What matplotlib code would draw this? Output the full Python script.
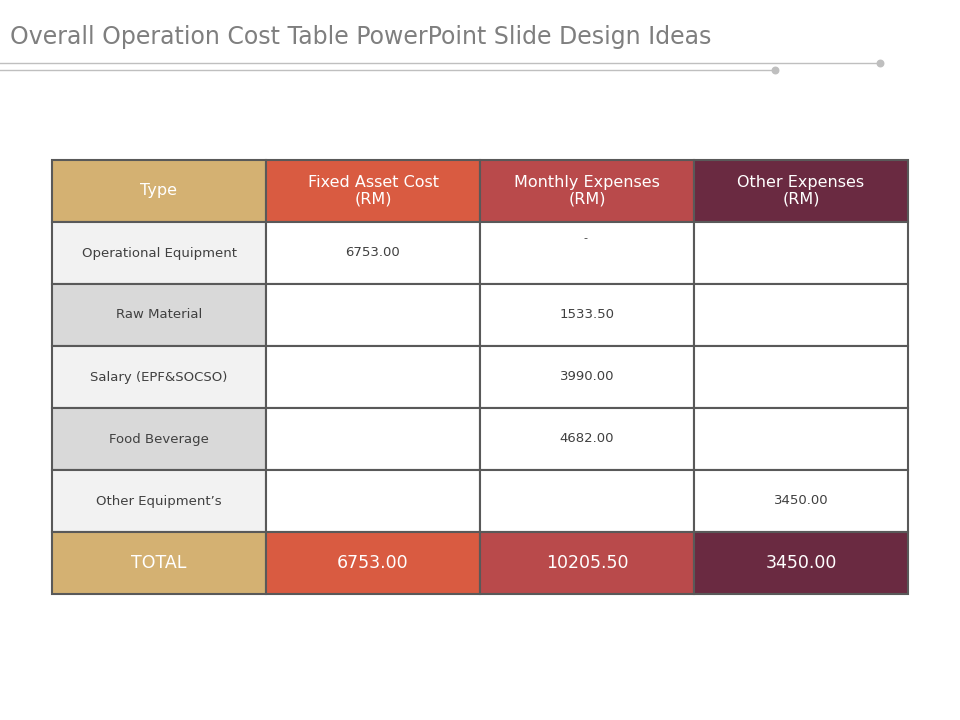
import matplotlib.pyplot as plt
from matplotlib.patches import Rectangle

title = "Overall Operation Cost Table PowerPoint Slide Design Ideas"
headers = ["Type", "Fixed Asset Cost\n(RM)", "Monthly Expenses\n(RM)", "Other Expenses\n(RM)"]
row_labels = ["Operational Equipment", "Raw Material", "Salary (EPF&SOCSO)",
              "Food Beverage", "Other Equipment\u2019s"]
fixed_asset = ["6753.00", "", "", "", ""]
monthly = ["", "1533.50", "3990.00", "4682.00", ""]
other = ["", "", "", "", "3450.00"]
totals = ["TOTAL", "6753.00", "10205.50", "3450.00"]

col_colors = ["#D4B172", "#D95B41", "#B94A4B", "#6A2A41"]
label_fills = ["#F2F2F2", "#D9D9D9"]

fig = plt.figure(figsize=(9.6, 7.2), dpi=100)
ax = fig.add_axes([0, 0, 1, 1])
ax.set_xlim(0, 960)
ax.set_ylim(720, 0)
ax.axis("off")

ax.text(10, 37, title, fontsize=17, color="#7F7F7F", va="center", ha="left")
ax.plot([0, 880], [63, 63], color="#BFBFBF", lw=1)
ax.plot([0, 775], [70, 70], color="#BFBFBF", lw=1)
ax.scatter([880, 775], [63, 70], s=22, color="#BFBFBF", zorder=3)

xs = [52, 266, 480, 694, 908]
y0, h = 160, 62
edge = "#595959"

def cell(c, r, fill, text, color, size):
    x = xs[c]
    w = xs[c + 1] - x
    y = y0 + r * h
    ax.add_patch(Rectangle((x, y), w, h, facecolor=fill, edgecolor=edge, lw=1.5))
    if text:
        ax.text(x + w / 2, y + h / 2, text, ha="center", va="center",
                color=color, fontsize=size, linespacing=1.1)

for c, t in enumerate(headers):
    cell(c, 0, col_colors[c], t, "white", 11.5)

for i, lab in enumerate(row_labels):
    r = i + 1
    cell(0, r, label_fills[i % 2], lab, "#404040", 9.5)
    cell(1, r, "white", fixed_asset[i], "#404040", 9.5)
    cell(2, r, "white", monthly[i], "#404040", 9.5)
    cell(3, r, "white", other[i], "#404040", 9.5)
ax.text(585, 238, "-", ha="center", va="center", color="#404040", fontsize=8)

for c, t in enumerate(totals):
    cell(c, 6, col_colors[c], t, "white", 12.5)

fig.savefig("out.png", dpi=100)
